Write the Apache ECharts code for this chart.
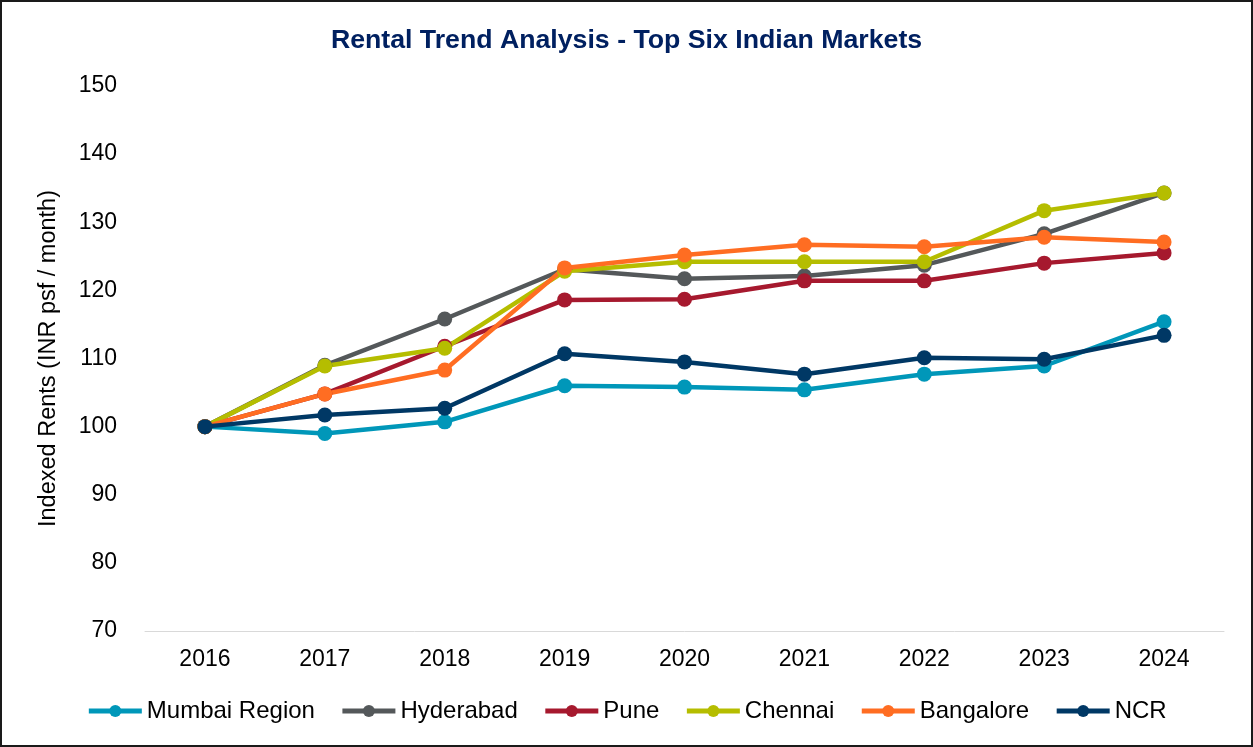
<!DOCTYPE html>
<html>
<head>
<meta charset="utf-8">
<script src="https://cdn.jsdelivr.net/npm/echarts@6/dist/echarts.min.js"></script>
<style>
html, body { margin: 0; padding: 0; background: #fff; }
#main {
    width: 1249px;
    height: 743px;
    border: 2px solid #1a1a1a;
}
</style>
</head>
<body>
<div id="main"></div>
<script>
// categories
var years = ['2016', '2017', '2018', '2019', '2020', '2021', '2022', '2023', '2024'];

// indexed rents, 2016 = 100
var mumbai    = [100, 99.0, 100.7, 106.0, 105.8, 105.4, 107.7, 108.9, 115.4];
var hyderabad = [100, 109.0, 115.8, 123.1, 121.7, 122.1, 123.7, 128.3, 134.3];
var pune      = [100, 104.8, 111.8, 118.6, 118.7, 121.4, 121.4, 124.0, 125.5];
var chennai   = [100, 108.9, 111.5, 122.8, 124.2, 124.2, 124.2, 131.7, 134.3];
var bangalore = [100, 104.8, 108.3, 123.3, 125.2, 126.7, 126.4, 127.8, 127.1];
var ncr       = [100, 101.7, 102.7, 110.7, 109.5, 107.7, 110.1, 109.9, 113.4];

var names  = ['Mumbai Region', 'Hyderabad', 'Pune', 'Chennai', 'Bangalore', 'NCR'];
var values = [mumbai, hyderabad, pune, chennai, bangalore, ncr];
var colors = ['#0097b9', '#54585a', '#a6192e', '#b5bd00', '#ff6d22', '#003865'];

var font = '"Liberation Sans", Arial, sans-serif';

var myChart = echarts.init(document.getElementById('main'));

var series = names.map(function (n, i) {
    return {
        name: n,
        type: 'line',
        data: values[i],
        symbol: 'circle',
        symbolSize: 15,
        lineStyle: { width: 4.5, color: colors[i] },
        itemStyle: { color: colors[i] },
        z: 2
    };
});
// NCR on top at 2016
series[5].z = 3;

myChart.setOption({
    animation: false,
    color: colors,
    title: {
        text: 'Rental Trend Analysis - Top Six Indian Markets',
        left: 'center',
        top: 20,
        textStyle: {
            fontFamily: font,
            fontSize: 26.7,
            fontWeight: 'bold',
            color: '#002060'
        }
    },
    legend: {
        bottom: 17,
        left: 'center',
        itemWidth: 53,
        itemHeight: 15,
        itemGap: 25,
        lineStyle: { width: 5 },
        textStyle: { fontFamily: font, fontSize: 24, color: '#000' },
        data: names
    },
    grid: {
        left: 143,
        right: 27,
        top: 84,
        bottom: 114
    },
    xAxis: {
        type: 'category',
        data: years,
        boundaryGap: true,
        axisLine: { lineStyle: { color: '#d9d9d9', width: 1 } },
        axisTick: { show: false },
        axisLabel: {
            fontFamily: font,
            fontSize: 23,
            color: '#000',
            margin: 17
        }
    },
    yAxis: {
        type: 'value',
        min: 70,
        max: 150,
        interval: 10,
        name: 'Indexed Rents (INR psf / month)',
        nameLocation: 'middle',
        nameGap: 84,
        nameRotate: 90,
        nameTextStyle: { fontFamily: font, fontSize: 23.5, color: '#000' },
        axisLine: { show: false },
        axisTick: { show: false },
        splitLine: { show: false },
        axisLabel: {
            fontFamily: font,
            fontSize: 23,
            color: '#000',
            margin: 28
        }
    },
    series: series
});
</script>
</body>
</html>
